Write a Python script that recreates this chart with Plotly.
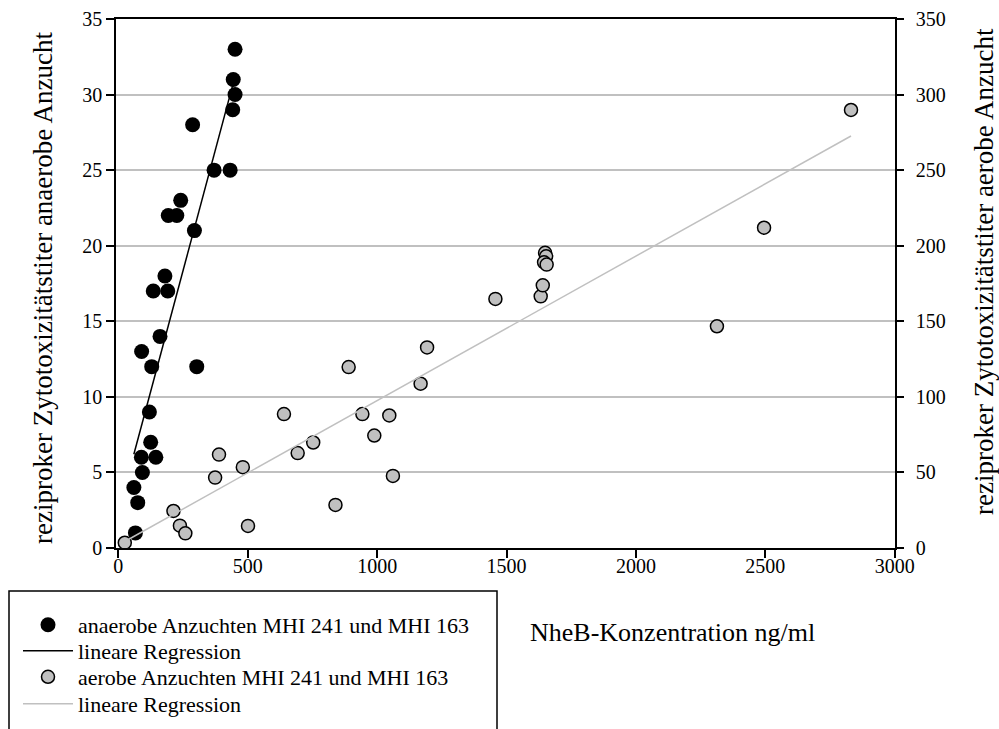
import plotly.graph_objects as go

# anaerobic cultures (left axis)
anaer_x = [451, 444, 451, 442, 287, 370, 432, 241, 193, 226, 294, 180, 135, 191, 161, 90, 129, 303, 120, 125, 89, 145, 93, 60, 75, 66]
anaer_y = [33, 31, 30, 29, 28, 25, 25, 23, 22, 22, 21, 18, 17, 17, 14, 13, 12, 12, 9, 7, 6, 6, 5, 4, 3, 1]
anaer_reg_x = [60, 451]
anaer_reg_y = [6.2, 31.2]

# aerobic cultures (right axis)
aer_x = [25, 213, 238, 259, 374, 389, 481, 501, 640, 693, 753, 839, 890, 943, 989, 1047, 1061, 1168, 1193,
         1457, 1632, 1640, 1649, 1653, 1645, 1655, 2313, 2495, 2831]
aer_y = [3.5, 24.5, 14.8, 9.7, 46.6, 61.8, 53.5, 14.6, 88.6, 62.8, 69.8, 28.5, 119.7, 88.6, 74.4, 87.7, 47.7, 108.7, 132.7,
         164.8, 166.5, 173.8, 195.3, 193.0, 189.0, 187.5, 146.7, 211.9, 289.8]
aer_reg_x = [25, 2831]
aer_reg_y = [4.3, 272.6]

x_ticks = [0, 500, 1000, 1500, 2000, 2500, 3000]
left_ticks = [0, 5, 10, 15, 20, 25, 30, 35]
right_ticks = [0, 50, 100, 150, 200, 250, 300, 350]

FONT = "Liberation Serif"
W, H = 999, 729
L, R, T, B = 116, 104, 19, 181
PW, PH = W - L - R, H - T - B

def px(x):
    return (x - L) / PW

def py(y):
    return (H - B - y) / PH

fig = go.Figure()
fig.add_trace(go.Scatter(x=aer_x, y=aer_y, mode="markers", yaxis="y2",
                         marker=dict(color="#c0c0c0", size=13, line=dict(color="black", width=1.5)),
                         name="aerobe Anzuchten MHI 241 und MHI 163", legend="legend3"))
fig.add_trace(go.Scatter(x=aer_reg_x, y=aer_reg_y, mode="lines", yaxis="y2",
                         line=dict(color="#c0c0c0", width=1.5),
                         name="lineare Regression", legend="legend4"))
fig.add_trace(go.Scatter(x=anaer_x, y=anaer_y, mode="markers",
                         marker=dict(color="black", size=15, line=dict(width=0)),
                         name="anaerobe Anzuchten MHI 241 und MHI 163", legend="legend"))
fig.add_trace(go.Scatter(x=anaer_reg_x, y=anaer_reg_y, mode="lines",
                         line=dict(color="black", width=1.5),
                         name="lineare Regression", legend="legend2"))

def leg(ycenter):
    return dict(xref="container", yref="container", x=18 / W, y=1 - ycenter / H,
                xanchor="left", yanchor="middle", bgcolor="rgba(0,0,0,0)",
                itemwidth=50, font=dict(family=FONT, size=22, color="black"))

fig.update_layout(
    width=W, height=H,
    margin=dict(l=L, r=R, t=T, b=B, autoexpand=False),
    paper_bgcolor="white", plot_bgcolor="white",
    font=dict(family=FONT, size=20, color="black"),
    xaxis=dict(range=[-9, 3001], tickvals=x_ticks, showgrid=False, zeroline=False,
               showline=True, linecolor="black", linewidth=1.5, mirror=True,
               ticks="outside", ticklen=8, tickcolor="black", tickwidth=1.5,
               ticklabelstandoff=-9),
    yaxis=dict(range=[0, 35], tickvals=left_ticks, showgrid=True, gridcolor="#c0c0c0", gridwidth=1.5,
               zeroline=False, showline=True, linecolor="black", linewidth=1.5,
               ticks="outside", ticklen=8, tickcolor="black", tickwidth=1.5),
    yaxis2=dict(range=[0, 350], tickvals=right_ticks, overlaying="y", side="right", showgrid=False,
                zeroline=False, showline=True, linecolor="black", linewidth=1.5,
                ticks="outside", ticklen=7, tickcolor="black", tickwidth=1.5,
                ticklabelstandoff=8),
    legend=leg(625),
    legend2=leg(651),
    legend3=leg(677),
    legend4=leg(704),
    showlegend=True,
)

fig.add_shape(type="rect", xref="paper", yref="paper",
              x0=px(9), x1=px(497), y0=py(591), y1=py(760),
              line=dict(color="black", width=1.5), fillcolor="rgba(0,0,0,0)")

fig.add_annotation(text="NheB-Konzentration ng/ml", xref="paper", yref="paper",
                   x=px(672), y=py(632), xanchor="center", yanchor="middle", showarrow=False,
                   font=dict(family=FONT, size=26, color="black"))
fig.add_annotation(text="reziproker Zytotoxizitätstiter anaerobe Anzucht", xref="paper", yref="paper",
                   x=px(43), y=py(288), xanchor="center", yanchor="middle", textangle=-90, showarrow=False,
                   font=dict(family=FONT, size=27, color="black"))
fig.add_annotation(text="reziproker Zytotoxizitätstiter aerobe Anzucht", xref="paper", yref="paper",
                   x=px(984), y=py(272), xanchor="center", yanchor="middle", textangle=-90, showarrow=False,
                   font=dict(family=FONT, size=27, color="black"))

fig.write_html("out.html")
